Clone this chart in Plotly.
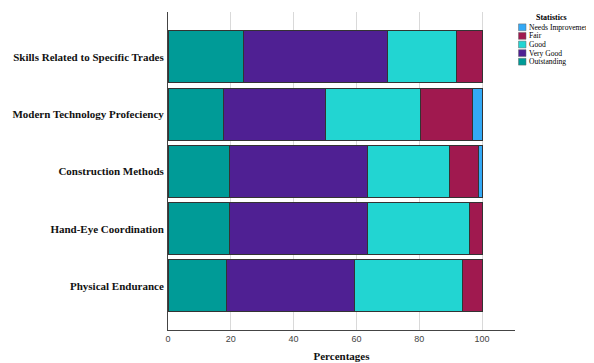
import plotly.graph_objects as go

categories = ["Skills Related to Specific Trades", "Modern Technology Profeciency",
              "Construction Methods", "Hand-Eye Coordination", "Physical Endurance"]
outstanding = [24.0, 17.6, 19.5, 19.5, 18.7]
very_good = [46.0, 32.5, 44.1, 44.1, 40.8]
good = [22.0, 30.2, 25.9, 32.3, 34.2]
fair = [8.0, 16.7, 9.5, 4.1, 6.3]
needs_improvement = [0.0, 3.0, 1.0, 0.0, 0.0]

series = [
    ("Outstanding", outstanding, "#009B97"),
    ("Very Good", very_good, "#4F2093"),
    ("Good", good, "#22D5D2"),
    ("Fair", fair, "#A0194F"),
    ("Needs Improvement", needs_improvement, "#33A9F6"),
]

OFF = 8  # default page body margin
W, H = 594 - OFF, 363 - OFF
ML, MR, MT, MB = 160, 79, 4, 33
PW, PH = W - ML - MR, H - MT - MB

fig = go.Figure()
for name, vals, color in series:
    fig.add_trace(go.Bar(
        y=categories, x=vals, name=name, orientation="h",
        marker=dict(color=color, line=dict(color="#333333", width=1)),
        showlegend=False,
    ))

serif = "Liberation Serif, Times New Roman, serif"

# compact SPSS-style legend, positioned in page pixels
def px_x(p):
    return (p - OFF - ML) / PW

def px_y(p):
    return (H - MB - (p - OFF)) / PH

fig.add_annotation(x=px_x(551), y=px_y(17.5), xref="paper", yref="paper",
                   text="<b>Statistics</b>", showarrow=False,
                   font=dict(family=serif, size=8, color="#000000"),
                   xanchor="center", yanchor="middle")
for i, (name, vals, color) in enumerate(reversed(series)):
    cy = 27.3 + i * 8.6
    fig.add_shape(type="rect", xref="paper", yref="paper",
                  x0=px_x(518.5), x1=px_x(526), y0=px_y(cy - 3.4), y1=px_y(cy + 3.4),
                  fillcolor=color, line=dict(color="#666666", width=0.5))
    fig.add_annotation(x=px_x(526.5), y=px_y(cy), xref="paper", yref="paper",
                       text=name, showarrow=False,
                       font=dict(family=serif, size=7.6, color="#000000"),
                       xanchor="left", yanchor="middle")

fig.update_layout(
    width=W, height=H,
    margin=dict(l=ML, r=MR, t=MT, b=MB, autoexpand=False),
    barmode="stack", bargap=0.09,
    plot_bgcolor="white", paper_bgcolor="white",
    xaxis=dict(range=[0, 110.5], dtick=20, showgrid=True, gridcolor="#d9d9d9", gridwidth=1,
               showline=True, linecolor="#444444", linewidth=1, zeroline=False, automargin=False,
               ticks="", tickfont=dict(family="Liberation Sans, Arial, sans-serif", size=9, color="#444444"),
               title=dict(text="<b>Percentages</b>", font=dict(family=serif, size=11, color="#111111"),
                          standoff=9)),
    yaxis=dict(categoryorder="array", categoryarray=categories, range=[4.77, -0.785],
               showline=True, linecolor="#444444", linewidth=1, showgrid=False, ticks="",
               automargin=False,
               tickvals=categories, ticktext=["<b>%s</b>" % c for c in categories],
               tickfont=dict(family=serif, size=11, color="#111111"), ticklabelstandoff=1),
    showlegend=False,
)

fig.write_html("out.html")
